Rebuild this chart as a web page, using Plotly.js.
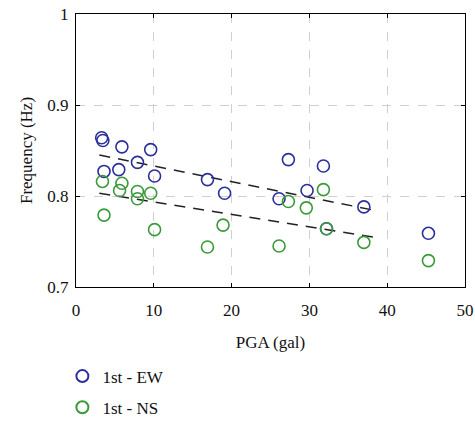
<!DOCTYPE html>
<html>
<head>
<meta charset="utf-8">
<script src="https://cdn.plot.ly/plotly-3.0.1.min.js"></script>
<style>
  html, body { margin: 0; padding: 0; background: #fff; }
  #chart { width: 475px; height: 422px; }
</style>
</head>
<body>
<div id="chart"></div>
<script>
// First-mode frequency vs. peak ground acceleration
const ewPGA  = [3.3, 3.45, 5.9, 9.6, 7.9, 3.6, 5.5, 10.1, 16.9, 19.1, 27.3, 31.8, 29.7, 26.1, 32.2, 37.0, 45.3];
const ewFreq = [0.864, 0.861, 0.854, 0.851, 0.837, 0.827, 0.829, 0.822, 0.818, 0.803, 0.840, 0.833, 0.806, 0.797, 0.764, 0.788, 0.759];

const nsPGA  = [3.4, 5.9, 5.6, 7.9, 7.9, 9.6, 3.6, 10.1, 16.9, 18.9, 26.1, 27.3, 29.6, 31.8, 32.2, 37.0, 45.3];
const nsFreq = [0.816, 0.814, 0.806, 0.805, 0.797, 0.803, 0.779, 0.763, 0.744, 0.768, 0.745, 0.794, 0.787, 0.807, 0.764, 0.749, 0.729];

// Linear trend lines (end points)
const ewFitX = [3.0, 38.5];
const ewFitY = [0.845, 0.784];
const nsFitX = [3.0, 38.9];
const nsFitY = [0.803, 0.754];

const xTicks = [0, 10, 20, 30, 40, 50];
const yTicks = [0.7, 0.8, 0.9, 1];

const serif = "'Liberation Serif', 'Times New Roman', Times, serif";

const traces = [
  {
    x: ewFitX, y: ewFitY, mode: 'lines', showlegend: false, hoverinfo: 'skip',
    line: { color: '#222', width: 1.5, dash: '11px,8px' }
  },
  {
    x: nsFitX, y: nsFitY, mode: 'lines', showlegend: false, hoverinfo: 'skip',
    line: { color: '#222', width: 1.5, dash: '11px,8px' }
  },
  {
    x: ewPGA, y: ewFreq, mode: 'markers', name: '1st - EW', legendgroup: 'ew',
    marker: { symbol: 'circle-open', size: 12, color: '#2b2f9c', line: { width: 1.6 } }
  },
  {
    x: nsPGA, y: nsFreq, mode: 'markers', name: '1st - NS', legendgroup: 'ns',
    marker: { symbol: 'circle-open', size: 12, color: '#3a9a3a', line: { width: 1.6 } }
  }
];

const axisCommon = {
  showline: true, linecolor: '#000', linewidth: 1, mirror: 'ticks',
  ticks: 'inside', ticklen: 4, tickcolor: '#000',
  showgrid: true, gridcolor: '#d0d0d0', griddash: 'dash', gridwidth: 1,
  zeroline: false, automargin: false,
  tickfont: { family: serif, size: 17, color: '#111' }
};

const layout = {
  width: 475, height: 422,
  margin: { l: 76, r: 10, t: 14, b: 135, autoexpand: false },
  paper_bgcolor: '#fff', plot_bgcolor: '#fff',
  font: { family: serif, color: '#111' },
  xaxis: Object.assign({}, axisCommon, {
    range: [0, 50], tickvals: xTicks, ticklabelstandoff: 8,
    title: { text: 'PGA (gal)', font: { family: serif, size: 17 } }
  }),
  yaxis: Object.assign({}, axisCommon, {
    range: [0.7, 1], tickvals: yTicks, ticklabelstandoff: 3,
    title: { text: 'Frequency (Hz)', font: { family: serif, size: 17 } }
  }),
  legend: {
    x: -0.035, y: -0.262, xanchor: 'left', yanchor: 'top',
    orientation: 'v', bgcolor: 'rgba(0,0,0,0)',
    font: { family: serif, size: 17, color: '#111' },
    itemsizing: 'constant', traceorder: 'grouped', tracegroupgap: 6,
    itemwidth: 30
  },
  showlegend: true
};

Plotly.newPlot('chart', traces, layout, { displayModeBar: false, staticPlot: true });
</script>
</body>
</html>
